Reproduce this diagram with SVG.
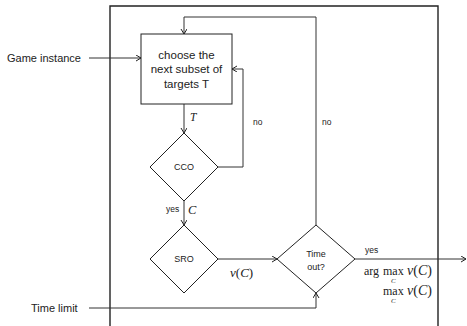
<svg xmlns="http://www.w3.org/2000/svg" width="467" height="326" viewBox="0 0 467 326">
<defs>
<marker id="arr" markerWidth="8" markerHeight="8" refX="5" refY="3" orient="auto" markerUnits="userSpaceOnUse">
<path d="M0,0 L5,3 L0,6" fill="none" stroke="#222" stroke-width="1"/>
</marker>
<style>
.ln{fill:none;stroke:#333;stroke-width:1}
.ar{fill:none;stroke:#333;stroke-width:1;marker-end:url(#arr)}
.nd{fill:#fff;stroke:#222;stroke-width:1}
.t{font-family:"Liberation Sans",Arial,sans-serif;fill:#222}
.m{font-family:"Liberation Serif","Times New Roman",serif;fill:#222}
</style>
</defs>
<rect width="467" height="326" fill="#fff"/>
<g id="frame">
<path d="M110,326 V6 H438 V326" fill="none" stroke="#222" stroke-width="1.4"/>
</g>
<g id="connectors">
<path class="ar" d="M89,58 H141"/>
<path class="ar" d="M184,104 V133"/>
<path class="ar" d="M218,167 H243 V69 H232"/>
<path class="ar" d="M184,201 V225"/>
<path class="ar" d="M218,259 H277"/>
<path class="ar" d="M316,225 V17 H184 V34"/>
<path class="ar" d="M355,259 H466"/>
<path class="ar" d="M89,308 H316 V293"/>
</g>
<g id="game-instance"><text class="t" x="7" y="62" font-size="11">Game instance</text></g>
<g id="time-limit"><text class="t" x="31" y="312" font-size="11">Time limit</text></g>
<g id="choose">
<rect class="nd" x="141" y="34" width="91" height="70"/>
<text class="t" font-size="11.5" text-anchor="middle"><tspan x="186.5" y="59">choose the</tspan><tspan x="186.5" y="73">next subset of</tspan><tspan x="186.5" y="88">targets T</tspan></text>
</g>
<g id="cco">
<path class="nd" d="M184,133 L218,167 L184,201 L150,167 Z"/>
<text class="t" x="184" y="170" font-size="9" text-anchor="middle">CCO</text>
</g>
<g id="sro">
<path class="nd" d="M184,225 L218,259 L184,293 L150,259 Z"/>
<text class="t" x="184" y="262" font-size="9" text-anchor="middle">SRO</text>
</g>
<g id="timeout">
<path class="nd" d="M316,225 L355,259 L316,293 L277,259 Z"/>
<text class="t" font-size="9" text-anchor="middle"><tspan x="316" y="257">Time</tspan><tspan x="316" y="270">out?</tspan></text>
</g>
<g id="labels">
<text class="m" x="190" y="121" font-size="11.5" font-style="italic">T</text>
<text class="t" x="253" y="125" font-size="8.5">no</text>
<text class="t" x="322" y="125" font-size="8.5">no</text>
<text class="t" x="166" y="212" font-size="8.5">yes</text>
<text class="m" x="188" y="214" font-size="12.5" font-style="italic">C</text>
<text class="m" x="230" y="277" font-size="13"><tspan font-style="italic">v</tspan>(<tspan font-style="italic">C</tspan>)</text>
<text class="t" x="365" y="253" font-size="8.5">yes</text>
<text class="m" x="364" y="275" font-size="12">arg</text>
<text class="m" x="383" y="275" font-size="12">max</text>
<text class="m" x="432" y="275" font-size="14" text-anchor="end"><tspan font-style="italic">v</tspan>(<tspan font-style="italic">C</tspan>)</text>
<text class="m" x="391" y="283" font-size="7" font-style="italic">C</text>
<text class="m" x="383" y="295" font-size="12">max</text>
<text class="m" x="432" y="295" font-size="14" text-anchor="end"><tspan font-style="italic">v</tspan>(<tspan font-style="italic">C</tspan>)</text>
<text class="m" x="391" y="303" font-size="7" font-style="italic">C</text>
</g>
</svg>
